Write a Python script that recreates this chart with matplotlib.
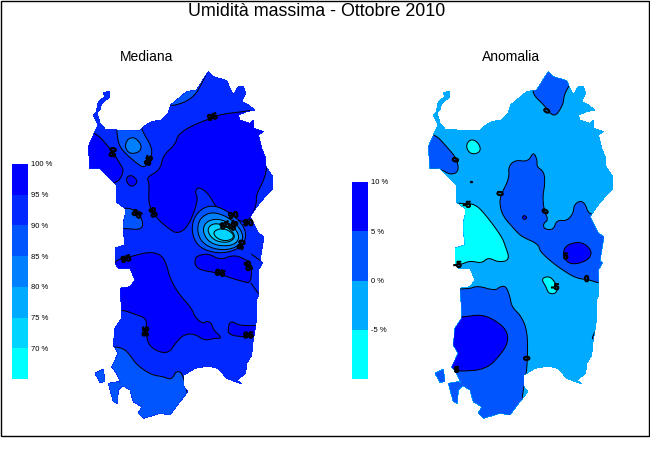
import matplotlib
matplotlib.use("Agg")
from matplotlib import pyplot as plt
from matplotlib import patheffects
from matplotlib.path import Path
from matplotlib.patches import PathPatch, Polygon, Rectangle

plt.rcParams['font.family'] = ['Liberation Sans', 'DejaVu Sans']

# colours of the bands
C100 = "#0000FF"
C95 = "#0028FF"
C90 = "#0055FF"
C85 = "#0080FF"
C80 = "#00AAFF"
C75 = "#00D4FF"
C70 = "#00FFFF"

# colour bars
mediana_levels = [65, 70, 75, 80, 85, 90, 95, 100]
mediana_colors = [C70, C75, C80, C85, C90, C95, C100]
anomalia_levels = [-10, -5, 0, 5, 10]
anomalia_colors = [C70, C80, C90, C100]

# island outline, map units (3 units = 1 pixel)
island_main = [(385, 35), (400, 50), (440, 62), (450, 85), (460, 105), (475, 80), (490, 80), (497, 100), (485, 125),
               (505, 135), (525, 150), (500, 155), (475, 165), (480, 180), (510, 190), (520, 180), (522, 205),
               (550, 215), (535, 225), (545, 265), (555, 290), (558, 320), (578, 350), (578, 385), (555, 410),
               (530, 440), (510, 470), (520, 490), (535, 520), (552, 530),
               (545, 570), (540, 605), (548, 607), (535, 630), (537, 700), (528, 725), (530, 775), (525, 810),
               (518, 850), (515, 885), (500, 910), (497, 940), (470, 960), (485, 972), (440, 955), (415, 925),
               (385, 918), (345, 925), (312, 945), (312, 980), (323, 995), (300, 1025), (270, 1065), (240, 1060),
               (190, 1075), (175, 1060), (185, 1040), (160, 1025), (150, 990), (125, 975), (110, 940), (95, 920),
               (115, 880), (100, 855), (105, 805), (125, 775), (125, 750), (120, 685), (150, 680), (165, 660),
               (150, 625), (115, 625), (105, 610), (105, 565), (135, 555), (130, 510), (130, 490), (135, 465),
               (135, 445), (108, 425), (108, 375), (60, 325), (30, 325), (25, 260), (45, 215), (55, 195), (40, 165),
               (50, 155), (60, 190), (75, 207), (110, 210), (180, 212), (190, 200), (215, 185), (245, 180),
               (265, 160), (272, 135), (320, 95), (350, 90), (375, 50)]
island_asinara = [(48, 160), (55, 125), (75, 110), (70, 97), (90, 95), (90, 110), (65, 130), (60, 150)]
island_pietro = [(45, 940), (70, 928), (75, 965), (60, 967)]
island_antioco = [(85, 970), (115, 965), (130, 975), (115, 990), (112, 1030), (100, 1025)]

# Mediana bands, painted in order over the base colour
med_north = [(270, 140), (320, 125), (350, 100), (375, 50), (385, 30), (300, 60), (250, 120)]
med_south = [(100, 860), (130, 865), (150, 885), (170, 915), (215, 945), (250, 950), (275, 960), (290, 930),
             (312, 945), (340, 1100), (30, 1100), (30, 860)]
med_center = [(505, 153), (510, 150), (570, 230), (560, 325), (552, 360), (528, 405), (530, 430), (515, 470),
              (490, 490), (440, 460), (410, 445), (385, 400), (355, 380), (345, 395), (355, 420), (325, 500),
              (292, 522), (265, 505), (230, 475), (205, 435), (208, 370), (200, 352), (240, 330), (250, 285),
              (285, 255), (295, 222), (340, 195), (385, 178), (420, 163)]
med_west = [(45, 215), (90, 265), (120, 310), (133, 335), (108, 375), (0, 375), (0, 215)]
med_ring = [(140, 350), (157, 345), (175, 365), (155, 382), (140, 368)]
med_sassari = [(110, 190), (110, 210), (115, 250), (130, 275), (170, 310), (195, 325), (215, 290), (215, 260),
               (185, 210), (185, 190)]
med_spot = [(135, 255), (145, 235), (165, 232), (185, 255), (180, 275), (155, 282), (140, 272)]
med_oristano = [(100, 445), (130, 445), (155, 445), (185, 470), (190, 510), (130, 505), (100, 505)]
med_big = [(105, 610), (110, 600), (150, 590), (210, 575), (245, 585), (260, 615), (270, 655), (295, 700),
           (335, 745), (345, 772), (370, 792), (380, 782), (395, 790), (400, 810), (428, 835), (400, 835),
           (375, 842), (340, 820), (310, 825), (290, 845), (262, 885), (205, 860), (198, 810), (200, 775),
           (165, 763), (130, 750), (80, 750), (80, 610)]
med_east = [(345, 600), (350, 588), (385, 580), (420, 600), (460, 585), (490, 595), (515, 610), (513, 670),
            (490, 665), (440, 650), (410, 638), (360, 630), (345, 615)]
med_coast = [(445, 795), (455, 783), (480, 798), (560, 795), (560, 830), (445, 830)]
med_r1 = [(335, 520), (340, 475), (368, 443), (405, 436), (450, 458), (488, 492), (500, 528), (485, 560),
          (445, 578), (398, 578), (355, 560)]
med_r2 = [(352, 520), (356, 480), (385, 458), (418, 460), (457, 480), (485, 512), (490, 542), (460, 567),
          (412, 570), (370, 552)]
med_r3 = [(368, 512), (376, 488), (400, 477), (430, 480), (462, 500), (480, 532), (462, 556), (415, 558),
          (382, 542)]
med_r4 = [(382, 510), (392, 494), (414, 490), (444, 502), (468, 528), (450, 547), (415, 546), (393, 532)]
med_r5 = [(398, 515), (425, 504), (452, 514), (464, 532), (440, 544), (410, 536)]
med_line_a = [(515, 583), (548, 607)]
med_line_b = [(513, 670), (535, 700)]

# Anomalia bands
ano_north = [(337, 90), (345, 110), (372, 135), (403, 175), (430, 133), (432, 105), (450, 72), (470, 60), (440, 20),
             (350, 20)]
ano_west = [(45, 222), (80, 260), (110, 295), (117, 335), (90, 345), (60, 325), (0, 330), (0, 222)]
ano_center = [(265, 320), (285, 300), (325, 305), (340, 275), (352, 300), (350, 320), (372, 335), (375, 370),
              (368, 410), (372, 450), (385, 480), (370, 490), (372, 507), (400, 510), (410, 480), (440, 483),
              (460, 460), (462, 435), (480, 422), (495, 430), (505, 460), (522, 463), (620, 463), (620, 670),
              (537, 670), (510, 660), (470, 655), (435, 635), (400, 610), (360, 575), (355, 552), (305, 530),
              (285, 510), (250, 470), (240, 440), (240, 410), (268, 355)]
ano_blob = [(430, 570), (445, 552), (485, 545), (515, 570), (510, 595), (480, 610), (450, 612), (432, 595)]
ano_dot_a = [(306, 472), (313, 465), (322, 473), (313, 480)]
ano_dot_b = [(150, 366), (155, 363), (159, 367), (154, 369)]
ano_cyan_west = [(140, 430), (170, 435), (205, 475), (245, 530), (255, 555), (270, 600), (235, 607), (205, 592),
                 (185, 610), (150, 602), (120, 615), (70, 615), (70, 430)]
ano_cyan_north = [(137, 258), (150, 238), (170, 243), (183, 265), (175, 280), (150, 282)]
ano_cyan_mid = [(365, 660), (375, 650), (395, 652), (415, 685), (405, 702), (385, 700), (378, 680)]
ano_sw = [(30, 685), (145, 688), (172, 677), (225, 692), (240, 680), (258, 678), (270, 710), (275, 740), (305, 770),
          (322, 815), (323, 890), (318, 950), (305, 1015), (305, 1100), (30, 1100)]
ano_sw_dark = [(125, 772), (182, 763), (225, 780), (260, 810), (265, 845), (245, 880), (200, 928), (115, 935),
               (95, 925), (60, 900), (60, 772)]
ano_east_patch = [(515, 840), (520, 825), (530, 805), (570, 840)]

# contour labels (x, y, text, angle)
med_labels = [(397, 172, "95", 15), (100, 277, "90", 80), (207, 302, "85", 70), (170, 463, "85", -30),
              (218, 458, "90", -70), (460, 467, "90", 10), (505, 490, "90", 0), (435, 497, "85", 20),
              (462, 497, "85", 60), (485, 555, "90", 70), (138, 598, "95", 15), (420, 640, "95", -10),
              (503, 618, "95", -70), (198, 815, "95", 85), (505, 827, "95", 0)]
ano_labels = [(108, 300, "0", 75), (382, 153, "0", 60), (140, 435, "-5", 0), (242, 401, "0", 80), (377, 455, "0", 60),
              (112, 615, "-5", 0), (437, 590, "5", 0), (500, 658, "0", 0), (405, 682, "-5", 0), (322, 895, "0", 90),
              (110, 930, "5", 0)]

med_layers = [(med_north, C90), (med_south, C90), (med_center, C100), (med_west, C100), (med_ring, C100),
              (med_sassari, C90), (med_spot, C85), (med_oristano, C90), (med_big, C100), (med_east, C100),
              (med_coast, C100), (med_r1, C90), (med_r2, C85), (med_r3, C80), (med_r4, C75), (med_r5, C75)]
med_lines = [med_line_a, med_line_b]
ano_layers = [(ano_north, C90), (ano_west, C90), (ano_center, C90), (ano_blob, C100), (ano_dot_a, C100),
              (ano_dot_b, C100), (ano_cyan_west, C70), (ano_cyan_north, C70), (ano_cyan_mid, C70), (ano_sw, C90),
              (ano_sw_dark, C100), (ano_east_patch, C90)]

WIDTH = 650
HEIGHT = 450


def pixel_axes(fig, left, top, width, height):
    return fig.add_axes([left / WIDTH, 1 - (top + height) / HEIGHT, width / WIDTH, height / HEIGHT])


def island_path():
    verts = []
    codes = []
    for part in [island_main, island_asinara, island_pietro, island_antioco]:
        verts += part + [part[0]]
        codes += [Path.MOVETO] + [Path.LINETO] * (len(part) - 1) + [Path.CLOSEPOLY]
    return Path(verts, codes)


def rounded(points, rounds=2):
    # corner cutting so the contours do not look like straight segments
    for _ in range(rounds):
        new_points = []
        for i in range(len(points)):
            x0, y0 = points[i]
            x1, y1 = points[(i + 1) % len(points)]
            new_points.append((0.75 * x0 + 0.25 * x1, 0.75 * y0 + 0.25 * y1))
            new_points.append((0.25 * x0 + 0.75 * x1, 0.25 * y0 + 0.75 * y1))
        points = new_points
    return points


def draw_map(fig, left, base_color, layers, lines, labels):
    ax = pixel_axes(fig, left, 60, 210, 380)
    ax.set_xlim(0, 630)
    ax.set_ylim(1140, 0)
    ax.axis("off")
    ax.patch.set_visible(False)
    land = PathPatch(island_path(), facecolor=base_color, edgecolor="none", antialiased=False, zorder=1)
    ax.add_patch(land)
    for points, color in layers:
        band = Polygon(rounded(points), closed=True, facecolor=color, edgecolor="black", linewidth=0.72, zorder=2)
        ax.add_patch(band)
        band.set_clip_path(land)
    for points in lines:
        segment, = ax.plot([p[0] for p in points], [p[1] for p in points], color="black", linewidth=0.72, zorder=2)
        segment.set_clip_path(land)
    blob = [patheffects.withStroke(linewidth=0.7, foreground="black")]
    for x, y, text, angle in labels:
        ax.text(x, y, text, fontsize=6.5, fontweight="bold", rotation=angle, ha="center", va="center",
                color="black", zorder=3, path_effects=blob)
    return ax


def draw_bar(fig, left, top, height, levels, colors):
    ax = pixel_axes(fig, left, top, 16, height)
    ax.bar([0] * len(colors), [levels[i + 1] - levels[i] for i in range(len(colors))], width=1,
           bottom=levels[:-1], color=colors)
    ax.set_xlim(-0.5, 0.5)
    ax.set_ylim(levels[0], levels[-1])
    ax.set_xticks([])
    ax.yaxis.tick_right()
    ax.set_yticks(levels[1:])
    ax.set_yticklabels(["{} %".format(v) for v in levels[1:]], fontsize=5.5)
    ax.tick_params(axis="y", length=0, pad=2)
    for spine in ax.spines.values():
        spine.set_visible(False)
    return ax


fig = plt.figure(figsize=(6.5, 4.5), dpi=100)

fig.add_artist(Rectangle((0.5 / WIDTH, 1 - 435.5 / HEIGHT), 648.5 / WIDTH, 435 / HEIGHT, transform=fig.transFigure,
                         fill=False, edgecolor="black", linewidth=1.0))

draw_map(fig, 80, C95, med_layers, med_lines, med_labels)
draw_map(fig, 420, C80, ano_layers, [], ano_labels)
draw_bar(fig, 12, 164, 215, mediana_levels, mediana_colors)
draw_bar(fig, 352, 182, 197, anomalia_levels, anomalia_colors)

fig.text(316.5 / WIDTH, 1 - 12 / HEIGHT, "Umidità massima - Ottobre 2010", fontsize=12.9, ha="center", va="center")
fig.text(147 / WIDTH, 1 - 57 / HEIGHT, "Mediana", fontsize=10, ha="center", va="center")
fig.text(511.5 / WIDTH, 1 - 57 / HEIGHT, "Anomalia", fontsize=10, ha="center", va="center")

fig.savefig("out.png", dpi=100)
